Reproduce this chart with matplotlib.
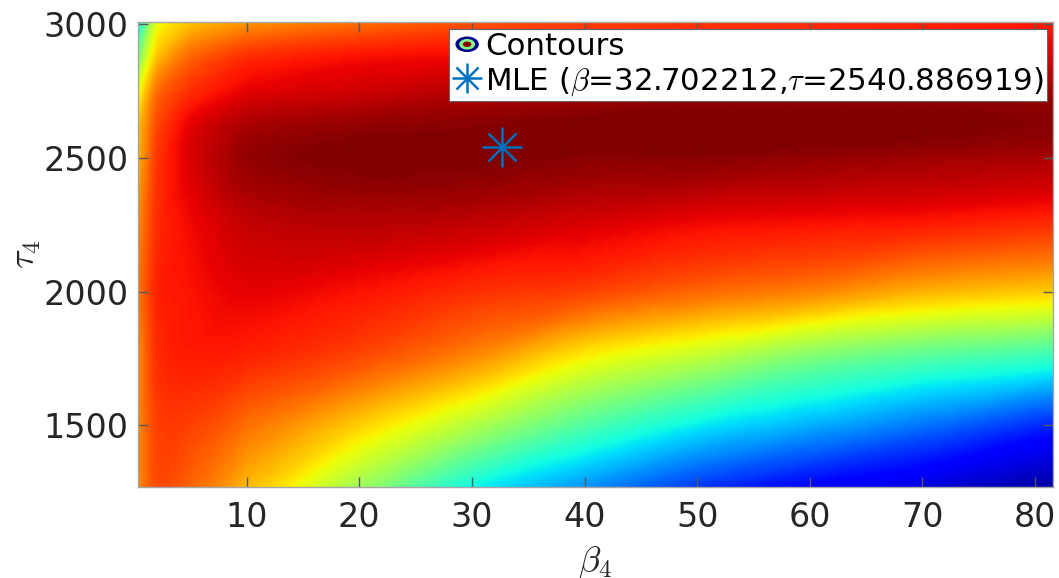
import numpy as np
import matplotlib
matplotlib.use('Agg')
import matplotlib.pyplot as plt
from matplotlib.lines import Line2D
from matplotlib.patches import Ellipse
from matplotlib.legend_handler import HandlerBase, HandlerTuple
from matplotlib.tri import Triangulation, UniformTriRefiner, CubicTriInterpolator

plt.rcParams['font.family'] = 'DejaVu Sans'
plt.rcParams['mathtext.fontset'] = 'cm'

# grid of the likelihood surface (0..1 on the jet scale)
betas = [0.35, 2, 5, 10, 20, 30, 40, 50, 60, 70, 81.6]
taus = [1269, 1500, 1750, 2000, 2250, 2500, 2625, 2750, 2880, 3008]
level = [
    [0.76, 0.83, 0.80, 0.71, 0.54, 0.37, 0.27, 0.18, 0.12, 0.08, 0.03],
    [0.76, 0.84, 0.84, 0.79, 0.69, 0.57, 0.45, 0.36, 0.30, 0.24, 0.16],
    [0.76, 0.86, 0.88, 0.87, 0.83, 0.76, 0.65, 0.58, 0.50, 0.45, 0.41],
    [0.78, 0.87, 0.89, 0.91, 0.89, 0.86, 0.84, 0.80, 0.77, 0.72, 0.69],
    [0.76, 0.86, 0.90, 0.94, 0.95, 0.94, 0.92, 0.90, 0.89, 0.88, 0.86],
    [0.72, 0.85, 0.92, 0.98, 1.00, 1.00, 0.99, 0.99, 0.98, 0.97, 0.96],
    [0.70, 0.83, 0.91, 0.96, 0.98, 0.99, 1.00, 1.00, 1.00, 1.00, 0.99],
    [0.63, 0.79, 0.86, 0.91, 0.93, 0.95, 0.96, 0.97, 0.97, 0.97, 0.97],
    [0.50, 0.70, 0.80, 0.86, 0.89, 0.90, 0.90, 0.91, 0.91, 0.92, 0.92],
    [0.35, 0.62, 0.70, 0.75, 0.79, 0.82, 0.84, 0.85, 0.86, 0.87, 0.88],
]

mle_beta = 32.702212
mle_tau = 2540.886919

xticks = [10, 20, 30, 40, 50, 60, 70, 80]
yticks = [1500, 2000, 2500, 3000]

blue = '#0072BD'


class ContourHandle:
    pass


class ContourIcon(HandlerBase):
    def create_artists(self, legend, orig_handle, xdescent, ydescent,
                       width, height, fontsize, trans):
        cx = width / 2 - xdescent
        cy = height / 2 - ydescent
        w0 = 0.8 * width
        h0 = 0.72 * height
        out = []
        for f, c in [(1.0, '#00008f'), (0.68, '#80ff80'), (0.36, '#8f0000')]:
            out.append(Ellipse((cx, cy), w0 * f, h0 * f, facecolor=c,
                               edgecolor='none', transform=trans))
        return out


fig = plt.figure(figsize=(10.59, 5.78), dpi=100)
ax = fig.add_axes([138 / 1059, 1 - 487 / 578, 915 / 1059, 465 / 578])

# structured mesh in grid-index space, smoothed by matplotlib's cubic interpolator
nx, ny = len(betas), len(taus)
iu, iv = np.meshgrid(np.arange(nx), np.arange(ny))
cells = []
for j in range(ny - 1):
    for i in range(nx - 1):
        a = j * nx + i
        cells.append([a, a + 1, a + nx + 1])
        cells.append([a, a + nx + 1, a + nx])
tri = Triangulation(iu.ravel().astype(float), iv.ravel().astype(float), cells)
z = np.array(level).ravel()
interp = CubicTriInterpolator(tri, z, kind='geom')
tri_f, z_f = UniformTriRefiner(tri).refine_field(z, triinterpolator=interp, subdiv=4)
xf = np.interp(tri_f.x, np.arange(nx), betas)
yf = np.interp(tri_f.y, np.arange(ny), taus)
tri_d = Triangulation(xf, yf, tri_f.triangles)
ax.tripcolor(tri_d, np.clip(z_f, 0, 1), shading='gouraud', cmap='jet',
             vmin=0, vmax=1, rasterized=True)

ax.plot([mle_beta], [mle_tau], marker='+', ms=29, mew=1.8, color=blue, ls='none')
ax.plot([mle_beta], [mle_tau], marker='x', ms=20.5, mew=1.8, color=blue, ls='none')

ax.set_xlim(betas[0], betas[-1])
ax.set_ylim(taus[0], taus[-1])
ax.set_xticks(xticks)
ax.set_yticks(yticks)
ax.tick_params(direction='in', length=7, width=1, color='0.35',
               labelsize=24, labelcolor='0.15', top=True, right=True)
ax.tick_params(axis='x', pad=10)
ax.tick_params(axis='y', pad=7)
for s in ax.spines.values():
    s.set_color('0.65')
    s.set_linewidth(1)

ax.set_xlabel(r'$\beta_4$', fontsize=26, color='0.15', labelpad=7)
ax.set_ylabel(r'$\tau_4$', fontsize=26, color='0.15', labelpad=0)

h_mle = (Line2D([], [], marker='+', ms=22, mew=1.8, color=blue, ls='none'),
         Line2D([], [], marker='x', ms=15.5, mew=1.8, color=blue, ls='none'))
leg = ax.legend([ContourHandle(), h_mle],
                ['Contours', r'MLE ($\beta$=32.702212,$\tau$=2540.886919)'],
                handler_map={ContourHandle: ContourIcon(), tuple: HandlerTuple(ndivide=1)},
                loc='upper right', bbox_to_anchor=(0.9934, 0.985),
                borderaxespad=0, fontsize=22.2, fancybox=False, framealpha=1,
                edgecolor='0.4', handlelength=0.95, handletextpad=0.1,
                borderpad=0.1, labelspacing=0.12)
leg.get_frame().set_linewidth(0.8)

fig.savefig('out.png', dpi=100)
